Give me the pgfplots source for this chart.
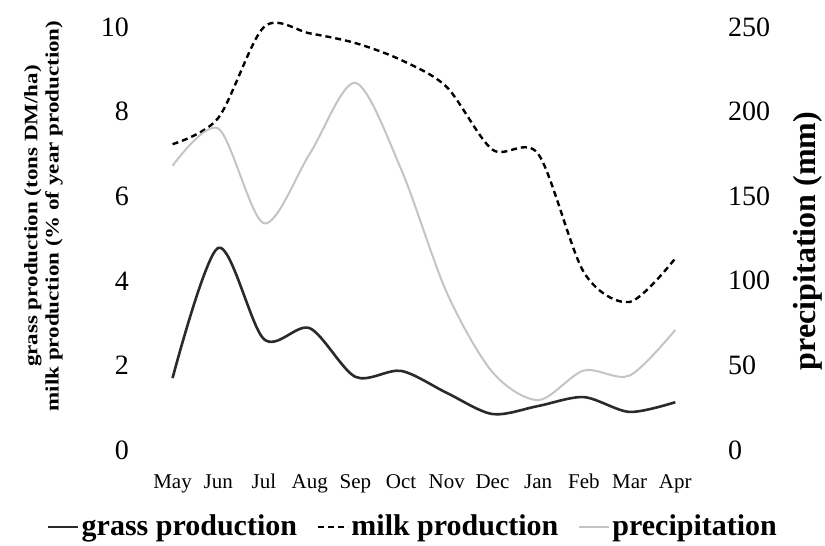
\documentclass[border=0pt]{standalone}
\usepackage{pgfplots}
\pgfplotsset{compat=1.18}
\usetikzlibrary{calc}
\usepackage{fontspec}
\setmainfont{Liberation Serif}
\definecolor{grasscol}{HTML}{2A2A2A}
\definecolor{precol}{HTML}{C4C4C4}
\begin{document}
\begin{tikzpicture}
\useasboundingbox (-68pt,-48pt) rectangle (344.5pt,225pt);
\begin{axis}[
  name=ax,
  at={(0,0)}, anchor=south west,
  scale only axis, width=292.5pt, height=211.5pt,
  xmin=-0.8, xmax=12, ymin=0, ymax=10,
  axis line style={draw=none},
  major tick length=0pt,
  clip=false,
  xtick={0,...,11},
  xticklabels={May,Jun,Jul,Aug,Sep,Oct,Nov,Dec,Jan,Feb,Mar,Apr},
  xticklabel style={font=\fontsize{10.5}{12}\selectfont, text height=1.5ex, text depth=0.25ex, yshift=-9pt},
  ytick={0,2,4,6,8,10},
  yticklabel style={font=\fontsize{14}{16}\selectfont},
  /pgf/number format/assume math mode=true,
  legend style={draw=none, fill=none, at={(0.4735,-0.182)}, anchor=center,
    font=\fontsize{15}{17}\selectfont\bfseries, legend columns=3,
    nodes={inner xsep=1pt},
    /tikz/every even column/.append style={column sep=9pt}},
  legend image code/.code={\draw[#1] (0pt,0pt) -- (15pt,0pt);},
]
\addplot[grasscol, line width=1.3pt, smooth] coordinates {
(0,1.70) (1,4.78) (2,2.62) (3,2.88) (4,1.73) (5,1.87) (6,1.35) (7,0.85) (8,1.04) (9,1.25) (10,0.90) (11,1.13)};
\addlegendentry{grass production}
\addplot[black, line width=1.2pt, densely dashed, smooth] coordinates {
(0,7.23) (1,7.85) (2,10.0) (3,9.85) (4,9.62) (5,9.22) (6,8.58) (7,7.10) (8,7.0) (9,4.2) (10,3.5) (11,4.53)};
\addlegendentry{milk production}
\addlegendimage{precol, line width=1pt}
\addlegendentry{precipitation}
\end{axis}
\begin{axis}[
  at={(0,0)}, anchor=south west,
  scale only axis, width=292.5pt, height=211.5pt,
  xmin=-0.8, xmax=12, ymin=0, ymax=250,
  axis line style={draw=none},
  major tick length=0pt,
  axis y line*=right,
  axis x line=none,
  clip=false,
  ytick={0,50,100,150,200,250},
  yticklabel style={font=\fontsize{14}{16}\selectfont},
  /pgf/number format/assume math mode=true,
]
\addplot[precol, line width=1pt, smooth] coordinates {
(0,168) (1,190) (2,134) (3,175) (4,217) (5,166) (6,93) (7,46) (8,29.5) (9,47) (10,44) (11,71)};
\end{axis}
\node[rotate=90, font=\fontsize{9.5}{11}\selectfont\bfseries, inner sep=0pt] at ($(ax.south west)+(-51.5pt,117pt)$) {\scalebox{1.21}[1]{grass production (tons DM/ha)}};
\node[rotate=90, font=\fontsize{9.5}{11}\selectfont\bfseries, inner sep=0pt] at ($(ax.south west)+(-41pt,117pt)$) {\scalebox{1.21}[1]{milk production (\% of year production)}};
\node[rotate=90, font=\fontsize{16}{18}\selectfont\bfseries] at ($(ax.south east)+(43.5pt,104.5pt)$) {precipitation (mm)};
\end{tikzpicture}
\end{document}
